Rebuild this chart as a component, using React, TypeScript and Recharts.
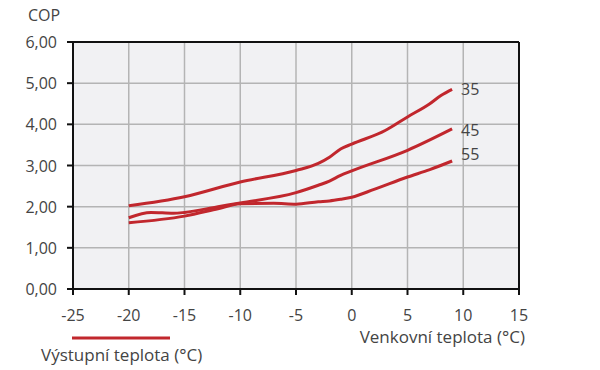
import { LineChart, Line, XAxis, YAxis, CartesianGrid, ReferenceLine } from 'recharts'

const xTicks = [-25, -20, -15, -10, -5, 0, 5, 10, 15]
const yTicks = [0, 1, 2, 3, 4, 5, 6]

const temps35 = [-20, -15, -10, -5, -3, -2, -1, 0, 3, 5, 7, 8, 9]
const cop35 = [2.02, 2.24, 2.6, 2.88, 3.05, 3.2, 3.4, 3.52, 3.85, 4.18, 4.5, 4.7, 4.85]

const temps45 = [-20, -18, -16, -15, -12, -10, -5, -3, -2, -1, 0, 5, 9]
const cop45 = [1.73, 1.86, 1.84, 1.86, 2.0, 2.09, 2.34, 2.52, 2.62, 2.76, 2.87, 3.37, 3.89]

const temps55 = [-20, -15, -12, -10, -7, -5, -3, -2, -1, 0, 2, 5, 7, 9]
const cop55 = [1.61, 1.77, 1.95, 2.07, 2.08, 2.06, 2.12, 2.14, 2.18, 2.23, 2.42, 2.72, 2.9, 3.11]

const seriesNames = ['35', '45', '55']
const labelDy = [0, 1, -7]

const RED = '#c1272d'
const TEXT = '#444'
const FONT = '"Open Sans", sans-serif'
const FS = 16

const toRows = (xs: number[], ys: number[]) => xs.map((t, i) => ({ t, v: ys[i] }))
const series = [toRows(temps35, cop35), toRows(temps45, cop45), toRows(temps55, cop55)]

const fmt = (v: number) => v.toFixed(2).replace('.', ',')

const XTick = (p: any) => (
  <text x={p.x} y={p.y + 24} textAnchor="middle" fontSize={FS} fill={TEXT} fontFamily={FONT}>
    {p.payload.value}
  </text>
)

const YTick = (p: any) => (
  <text x={p.x - 8} y={p.y + 6} textAnchor="end" fontSize={FS} fill={TEXT} fontFamily={FONT}>
    {fmt(p.payload.value)}
  </text>
)

export default function App() {
  return (
    <div style={{ position: 'absolute', left: 0, top: 0, width: 600, height: 370, background: '#fff', fontFamily: FONT }}>
      <LineChart
        width={600}
        height={370}
        margin={{ top: 42, right: 81, bottom: 51, left: 0 }}
      >
        <CartesianGrid fill="#f1f1f3" stroke="#b4b4b4" strokeWidth={1.5} />
        <XAxis
          type="number"
          dataKey="t"
          domain={[-25, 15]}
          ticks={xTicks}
          height={30}
          allowDuplicatedCategory={false}
          stroke="#111"
          strokeWidth={2}
          tickSize={6}
          tick={<XTick />}
          tickLine={{ stroke: '#111', strokeWidth: 2 }}
        />
        <YAxis
          type="number"
          domain={[0, 6]}
          ticks={yTicks}
          width={73}
          stroke="#111"
          strokeWidth={2}
          tickSize={6}
          tick={<YTick />}
          tickLine={{ stroke: '#111', strokeWidth: 2 }}
        />
        <ReferenceLine y={6} stroke="#111" strokeWidth={2} />
        <ReferenceLine x={15} stroke="#111" strokeWidth={2} />
        {series.map((rows, si) => (
          <Line
            key={seriesNames[si]}
            data={rows}
            dataKey="v"
            type="monotone"
            stroke={RED}
            strokeWidth={3}
            dot={false}
            activeDot={false}
            isAnimationActive={false}
            label={(p: any) =>
              p.index === rows.length - 1 ? (
                <text
                  key={p.index}
                  x={p.x + 9}
                  y={p.y + labelDy[si] + 6}
                  fontSize={FS}
                  fill={TEXT}
                  fontFamily={FONT}
                >
                  {seriesNames[si]}
                </text>
              ) : (
                <g key={p.index} />
              )
            }
          />
        ))}
        <text x={28} y={21} fontSize={FS} fill={TEXT} fontFamily={FONT}>COP</text>
        <text x={525} y={343} fontSize={17} fill={TEXT} fontFamily={FONT} textAnchor="end">
          Venkovní teplota (°C)
        </text>
        <line x1={72} y1={338} x2={170} y2={338} stroke={RED} strokeWidth={3} />
        <text x={41} y={361} fontSize={17} fill={TEXT} fontFamily={FONT}>Výstupní teplota (°C)</text>
      </LineChart>
    </div>
  )
}
